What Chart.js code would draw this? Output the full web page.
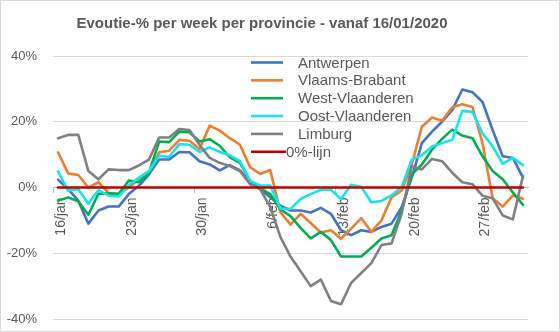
<!DOCTYPE html>
<html>
<head>
<meta charset="utf-8">
<script src="https://cdn.jsdelivr.net/npm/chart.js@4"></script>
<style>
  html, body { margin: 0; padding: 0; background: #ffffff; }
  canvas { display: block; }
</style>
</head>
<body>
<canvas id="myChart" width="560" height="332"></canvas>
<script>
const days = [
  '16/jan','17/jan','18/jan','19/jan','20/jan','21/jan','22/jan','23/jan','24/jan','25/jan',
  '26/jan','27/jan','28/jan','29/jan','30/jan','31/jan','1/feb','2/feb','3/feb','4/feb',
  '5/feb','6/feb','7/feb','8/feb','9/feb','10/feb','11/feb','12/feb','13/feb','14/feb',
  '15/feb','16/feb','17/feb','18/feb','19/feb','20/feb','21/feb','22/feb','23/feb','24/feb',
  '25/feb','26/feb','27/feb','28/feb','29/feb','1/mrt','2/mrt'
]

const antwerpen = [2.4,-0.5,-4,-11,-7,-5.8,-5.8,-2,0.5,4, 8.5,8.5,10.8,10.7,8,7,5.2,6.8,5.2,1.5,
  -0.5,-3,-5.5,-7,-7,-7.6,-6.2,-8,-13,-14.5, -13,-13.5,-12,-11,-6,3,13.5,17,20,23.5,
  29.8,29,26,17.5,9.5,9,3]
const vlaamsBrabant = [10.7,4.3,3.8,0,1.6,-1.7,-2.1,0,2.5,4.5, 10.7,11.2,14.5,14.2,11.7,18.8,17.3,15,13,6.2,
  4.1,5.3,-7.5,-11.3,-8,-10.8,-13.7,-13,-15.6,-12.5, -9.3,-13.5,-10,-3,-0.9,7,18.5,21.3,20.3,24.4,
  25.3,24.5,13.5,-3.3,-5.8,-2.4,-3.4]
const westVlaanderen = [-4,-3,-4.2,-8.3,-1.9,-1.8,-1.9,2.1,1.6,4.5, 14,13.8,17,16.8,14,14.7,12.7,9.2,7.5,2,
  -0.3,-2,-6.7,-8.7,-12.3,-15.5,-13.5,-16,-21,-21, -21,-18.3,-15.5,-14.5,-7,4,7,11.5,14.8,17.6,
  15.8,15,9.5,5,2.5,-1.5,-5.3]
const oostVlaanderen = [4.9,-1,-0.5,-4.9,-0.8,-2.5,-2.7,0.6,3,5, 9.7,9.3,13.2,13,10.8,12.2,10.8,9.8,8,2,
  0.6,0.6,-6.4,-6.5,-3.5,-2,-0.7,-0.7,-3.5,0.8, 0.2,-4.5,-4.1,-2.4,0.2,8.5,9.8,12.5,13.5,14.5,
  23.3,23,16.5,12.5,7.2,9,6.8]
const limburg = [15,16,16,5,2.5,5.5,5.3,5.3,6.7,8.5, 15.2,15.2,17.8,17.5,13,9,7.5,6.5,5,1,
  -0.5,-6,-15,-21,-25.5,-30,-28,-34.5,-35.5,-29, -26,-23,-17.5,-17,-8,6.5,5.5,8.7,8,4.5,
  1.6,1,-2.5,-3.3,-8.5,-9.7,3.5]
const nulLijn = [0,0,0,0,0,0,0,0,0,0, 0,0,0,0,0,0,0,0,0,0, 0,0,0,0,0,0,0,0,0,0,
  0,0,0,0,0,0,0,0,0,0, 0,0,0,0,0,0,0]

const yMin = -40
const yMax = 40
const yStep = 20
const labelEvery = 7

const titleText = 'Evoutie-% per week per provincie - vanaf 16/01/2020'
const grey = '#595959'
const fontName = '"Liberation Sans", Arial, sans-serif'

function serie(label, data, color, order, indent) {
  return {
    label: label,
    data: data,
    borderColor: color,
    backgroundColor: color,
    borderWidth: 2.6,
    pointRadius: 0,
    tension: 0,
    fill: false,
    borderJoinStyle: 'round',
    borderCapStyle: 'round',
    order: order,
    legendIndent: indent
  }
}

// title, frame and the legend inside the plot are drawn by hand
const extras = {
  id: 'extras',
  beforeDraw(chart) {
    const ctx = chart.ctx
    ctx.save()
    ctx.fillStyle = '#ffffff'
    ctx.fillRect(0, 0, chart.width, chart.height)
    ctx.strokeStyle = '#d9d9d9'
    ctx.lineWidth = 1
    ctx.strokeRect(0.5, 0.5, chart.width - 1, chart.height - 1)
    ctx.font = 'bold 15px ' + fontName
    ctx.fillStyle = grey
    ctx.textAlign = 'center'
    ctx.textBaseline = 'middle'
    ctx.fillText(titleText, 262, 24)
    ctx.restore()
  },
  afterDatasetsDraw(chart) {
    const ctx = chart.ctx
    ctx.save()
    ctx.font = '15px ' + fontName
    ctx.textBaseline = 'middle'
    ctx.textAlign = 'left'
    chart.data.datasets.forEach((ds, i) => {
      const y = 62.5 + i * 17.85
      ctx.strokeStyle = ds.borderColor
      ctx.lineWidth = 2.6
      ctx.beginPath()
      ctx.moveTo(251, y)
      ctx.lineTo(ds.legendIndent > 5 ? 283 : 286, y)
      ctx.stroke()
      ctx.fillStyle = grey
      ctx.fillText(ds.label, 285 + ds.legendIndent, y + 1)
    })
    ctx.restore()
  }
}

// keep the axis boxes from reserving room, so the plot fills the padding box
function noPadding(s) {
  s.paddingTop = 0
  s.paddingBottom = 0
}

const chart1 = document.getElementById('myChart')

new Chart(chart1, {
  type: 'line',
  data: {
    labels: days,
    datasets: [
      serie('Antwerpen', antwerpen, '#4472c4', 5, 13),
      serie('Vlaams-Brabant', vlaamsBrabant, '#ed7d31', 4, 13),
      serie('West-Vlaanderen', westVlaanderen, '#00b050', 3, 13),
      serie('Oost-Vlaanderen', oostVlaanderen, '#16e4ee', 2, 13),
      serie('Limburg', limburg, '#808080', 1, 13),
      serie('0%-lijn', nulLijn, '#c00000', 0, 1)
    ]
  },
  options: {
    responsive: false,
    animation: false,
    devicePixelRatio: 1,
    layout: { padding: { left: 0, right: 32, top: 56, bottom: 13 } },
    plugins: {
      legend: { display: false },
      title: { display: false },
      tooltip: { enabled: false }
    },
    scales: {
      x: {
        type: 'category',
        position: { y: 0 },
        offset: true,
        afterFit: s => { s.height = 0; noPadding(s) },
        grid: {
          display: true,
          drawOnChartArea: false,
          drawTicks: true,
          tickLength: 5,
          offset: true,
          color: ctx => (ctx.index % labelEvery === 0 ? '#bfbfbf' : 'rgba(0,0,0,0)')
        },
        border: { display: true, color: '#bfbfbf' },
        ticks: {
          autoSkip: false,
          minRotation: 90,
          maxRotation: 90,
          padding: 5,
          labelOffset: 3,
          color: grey,
          font: { family: fontName, size: 14 },
          callback: function (value, index) {
            return index % labelEvery === 0 ? this.getLabelForValue(value) : ''
          }
        }
      },
      y: {
        min: yMin,
        max: yMax,
        afterFit: s => { s.width = 53; noPadding(s) },
        grid: { color: '#d9d9d9', lineWidth: 1, drawTicks: false },
        border: { display: false },
        ticks: {
          stepSize: yStep,
          padding: 16,
          color: grey,
          font: { family: fontName, size: 13 },
          callback: v => v + '%'
        }
      }
    }
  },
  plugins: [extras]
})
</script>
</body>
</html>
